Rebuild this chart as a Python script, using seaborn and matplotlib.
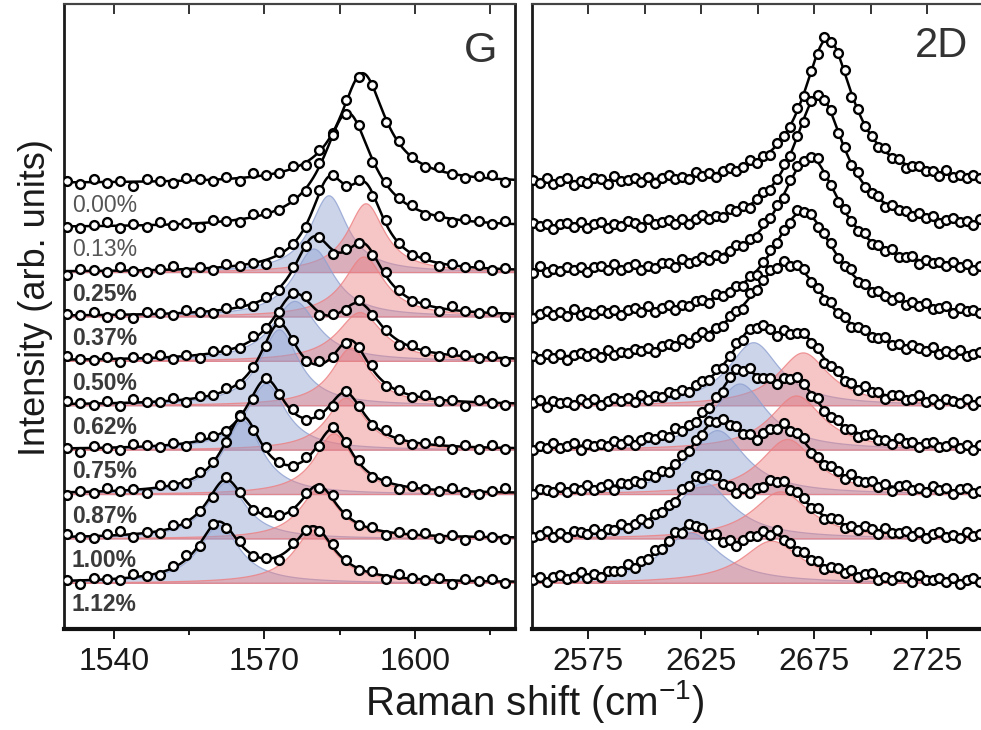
import numpy as np
import matplotlib
matplotlib.use('Agg')
import matplotlib.pyplot as plt
import seaborn as sns

# strain levels, top spectrum first
strain_labels = ['0.00%', '0.13%', '0.25%', '0.37%', '0.50%',
                 '0.62%', '0.75%', '0.87%', '1.00%', '1.12%']
row_step = 100   # vertical offset between stacked spectra (arb. units)

# G band fit: component 1 (G- / single peak) and component 2 (G+), pos in cm-1
g_pos1 = [1589.6, 1586.6, 1582.8, 1579.8, 1576.0, 1572.9, 1570.3, 1565.6, 1562.3, 1560.9]
g_amp1 = [248, 259, 173, 153, 135, 171, 149, 166, 126, 130]
g_fwhm1 = [11, 12, 9, 10, 11, 9.5, 9.5, 9.5, 9.5, 10]
g_pos2 = [0, 0, 1590.2, 1589.8, 1589.0, 1587.2, 1586.2, 1583.8, 1580.8, 1579.8]
g_amp2 = [0, 0, 155, 135, 110, 130, 117, 137, 112, 119]
g_fwhm2 = [1, 1, 9, 10, 11, 9.5, 9.5, 9.5, 9.5, 10]

# 2D band fit: component 1 (2D- / single peak) and component 2 (2D+)
d_pos1 = [2681, 2677, 2673, 2670, 2663, 2648, 2642, 2632, 2626, 2620]
d_amp1 = [326, 299, 259, 236, 223, 142, 149, 144, 126, 113]
d_fwhm1 = [27, 28, 33, 36, 44, 28, 29, 30, 31, 32]
d_pos2 = [0, 0, 0, 0, 0, 2670, 2667, 2663, 2660, 2656]
d_amp2 = [0, 0, 0, 0, 0, 119, 122, 124, 106, 95]
d_fwhm2 = [1, 1, 1, 1, 1, 28, 29, 30, 31, 32]

# measured points: start, spacing (cm-1) and scatter about the fit (arb. units)
g_start, g_step = 1530.6, 2.65
g_resid = [3, -4, 6, -2, 1, -9, 5, 0, -5, 7, 2, -3, 4, -6, 8, 1, -2,
           5, -7, 3, 0, 6, -4, 2, -8, 4, 1, -3, 7, -1, -5, 3, 9, -6]
d_start, d_step = 2550.5, 3.0
d_resid = [5, -3, 8, -6, 2, 7, -8, 1, -4, 6, 3, -7, 9, -2, 0, 5,
           -5, 4, -9, 2, 7, -3, 1, -6, 8, -1, 4, -8, 3, 6, -4, 0,
           9, -5, 2, -7, 5, 1, -3, 7, -6, 3, -2, 8, -4, 0, 6, -9,
           4, -1, 2, -5, 7, -3, 5, -8, 1, 6, -2, 3, -6, 9, -4, 2,
           -3, 6, -1, 4, -7, 3]

blue = (0.56, 0.63, 0.82)
red = (0.93, 0.50, 0.51)


def lorentz(x, x0, amp, fwhm):
    return amp / (1 + ((x - x0) / (fwhm / 2.0)) ** 2)


def draw_panel(ax, pos1, amp1, w1, pos2, amp2, w2, xlim, start, step, resid, label_text):
    xs = np.linspace(xlim[0], xlim[1], 900)
    xp = start + step * np.arange(len(resid))
    for i in range(len(strain_labels)):
        off = (len(strain_labels) - 1 - i) * row_step
        c1 = lorentz(xs, pos1[i], amp1[i], w1[i])
        p1 = lorentz(xp, pos1[i], amp1[i], w1[i])
        c2 = np.zeros_like(xs)
        p2 = np.zeros_like(xp)
        if amp2[i] > 0:
            c2 = lorentz(xs, pos2[i], amp2[i], w2[i])
            p2 = lorentz(xp, pos2[i], amp2[i], w2[i])
            ax.fill_between(xs, off, off + c1, facecolor=blue + (0.45,),
                            edgecolor=blue + (0.8,), lw=0.9, zorder=1)
            ax.fill_between(xs, off, off + c2, facecolor=red + (0.45,),
                            edgecolor=red + (0.8,), lw=0.9, zorder=1)
        sns.lineplot(x=xs, y=off + c1 + c2, ax=ax, color='black', lw=1.8, zorder=2)
        sns.scatterplot(x=xp, y=off + p1 + p2 + np.roll(resid, 5 * i), ax=ax,
                        s=40, color='white', edgecolor='black', linewidth=1.7, zorder=3)
        if label_text:
            bold = i >= 2
            ax.text(1531.6, off - 50, strain_labels[i], ha='left', va='center',
                    fontsize=16.5, fontweight='bold' if bold else 'normal',
                    color='#3a3a3a' if bold else '#555555', zorder=4)
    ax.set_xlim(*xlim)
    ax.set_ylim(-104, 1304)
    ax.set_yticks([])
    ax.set_xlabel('')
    ax.set_ylabel('')


sns.set_theme(style='white')
plt.rcParams['font.family'] = ['Liberation Sans', 'DejaVu Sans']
plt.rcParams['mathtext.default'] = 'regular'

fig = plt.figure(figsize=(9.81, 7.30), dpi=100)
ax_g = fig.add_axes([0.0652, 0.1384, 0.4597, 0.8562])
ax_d = fig.add_axes([0.5423, 0.1384, 0.4832, 0.8562])

draw_panel(ax_g, g_pos1, g_amp1, g_fwhm1, g_pos2, g_amp2, g_fwhm2,
           (1530, 1620), g_start, g_step, g_resid, True)
draw_panel(ax_d, d_pos1, d_amp1, d_fwhm1, d_pos2, d_amp2, d_fwhm2,
           (2550, 2760), d_start, d_step, d_resid, False)

ax_g.set_xticks([1540, 1570, 1600])
ax_g.set_xticks([1555, 1585, 1615], minor=True)
ax_d.set_xticks([2575, 2625, 2675, 2725])
ax_d.set_xticks([2600, 2650, 2700, 2750], minor=True)
top_ticks = {ax_g: np.arange(1540, 1620, 15), ax_d: np.arange(2575, 2760, 25)}

for ax in (ax_g, ax_d):
    ax.tick_params(axis='x', which='major', direction='out', length=7, width=1.4,
                   labelsize=23, pad=6, colors='#1a1a1a', bottom=True, top=False)
    ax.tick_params(axis='x', which='minor', direction='out', length=4, width=1.4,
                   bottom=True, top=False, color='#1a1a1a')
    sec = ax.secondary_xaxis('top')
    sec.set_xticks(top_ticks[ax])
    sec.tick_params(direction='in', length=7, width=1.4, labeltop=False, color='#333333')
    sec.spines['top'].set_linewidth(1.5)
    sec.spines['top'].set_color('#444444')
    for side in ('left', 'right'):
        ax.spines[side].set_linewidth(2.0)
        ax.spines[side].set_color('#1a1a1a')
    ax.spines['top'].set_linewidth(1.5)
    ax.spines['top'].set_color('#444444')
    ax.spines['bottom'].set_linewidth(3.0)
    ax.spines['bottom'].set_color('#111111')

ax_g.text(0.960, 0.907, 'G', transform=ax_g.transAxes, ha='right', va='baseline',
          fontsize=31, color='#333333')
ax_d.text(0.920, 0.915, '2D', transform=ax_d.transAxes, ha='right', va='baseline',
          fontsize=30, color='#333333')

fig.text(0.545, 0.02, 'Raman shift (cm$^{-1}$)', ha='center', va='baseline',
         fontsize=29, color='#1a1a1a')
fig.text(0.036, 0.592, 'Intensity (arb. units)', ha='center', va='center',
         rotation=90, fontsize=26, color='#1a1a1a')

fig.savefig('out.png', dpi=100)
